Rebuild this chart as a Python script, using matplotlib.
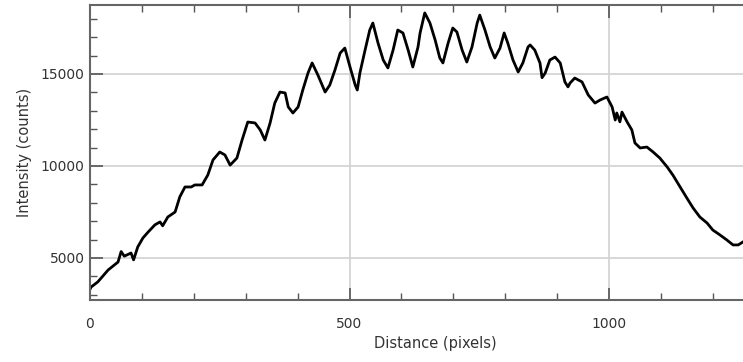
import matplotlib
matplotlib.use("Agg")
import matplotlib.pyplot as plt
from matplotlib.ticker import MultipleLocator

# Profile (distance in pixels, intensity in counts)
distance = [0, 2, 15, 35, 54, 60, 66, 79, 84, 92, 102, 112, 125, 135, 140, 150, 164,
            173, 183, 195, 202, 214, 216, 227, 237, 250, 260, 270, 283, 293, 304, 318,
            328, 337, 347, 356, 366, 376, 382, 391, 401, 410, 420, 428, 439, 453, 462,
            472, 482, 491, 501, 511, 515, 520, 530, 539, 545, 555, 565, 574, 584, 593,
            603, 613, 622, 632, 636, 645, 655, 665, 674, 680, 690, 699, 707, 717, 726,
            736, 746, 751, 761, 771, 780, 790, 798, 805, 815, 825, 834, 844, 848, 857,
            867, 871, 877, 886, 896, 906, 915, 921, 925, 934, 948, 960, 973, 983, 996,
            1006, 1012, 1015, 1021, 1025, 1035, 1044, 1050, 1060, 1073, 1085, 1098,
            1112, 1123, 1137, 1150, 1162, 1175, 1189, 1200, 1214, 1227, 1239, 1249, 1258]
intensity = [3300, 3420, 3700, 4350, 4780, 5350, 5100, 5270, 4900, 5600, 6090, 6410,
             6800, 6960, 6750, 7230, 7500, 8320, 8860, 8860, 8970, 8970, 8970, 9510,
             10330, 10760, 10600, 10050, 10430, 11410, 12390, 12340, 11960, 11410,
             12340, 13420, 14020, 13970, 13210, 12880, 13210, 14130, 15050, 15600,
             14950, 14020, 14400, 15220, 16140, 16410, 15380, 14400, 14130, 15050,
             16300, 17390, 17770, 16680, 15760, 15330, 16300, 17390, 17230, 16300,
             15380, 16470, 17230, 18320, 17770, 16850, 15870, 15600, 16680, 17500,
             17280, 16300, 15650, 16470, 17770, 18200, 17390, 16470, 15870, 16410,
             17230, 16680, 15760, 15110, 15600, 16470, 16580, 16300, 15600, 14800,
             15050, 15760, 15920, 15600, 14570, 14300, 14510, 14780, 14570, 13860,
             13420, 13590, 13750, 13210, 12500, 12880, 12400, 12930, 12390, 11960,
             11250, 10980, 11030, 10760, 10430, 9950, 9510, 8860, 8260, 7720, 7230,
             6900, 6520, 6250, 5980, 5710, 5710, 5870]

fig = plt.figure(figsize=(7.43, 3.62), dpi=100)
# right frame edge sits past the picture, as in the original screenshot
ax = fig.add_axes([90 / 743, 62 / 362, 690 / 743, 295 / 362])

ax.plot(distance, intensity, color="black", linewidth=2.0)

ax.set_xlim(0, 690 / 0.519)
ax.set_ylim(2717, 18750)

ax.xaxis.set_major_locator(MultipleLocator(500))
ax.xaxis.set_minor_locator(MultipleLocator(100))
ax.yaxis.set_major_locator(MultipleLocator(5000))
ax.yaxis.set_minor_locator(MultipleLocator(1000))

ax.grid(True, which="major", color="#d4d4d4", linewidth=1.3)
ax.set_axisbelow(True)

ax.tick_params(which="both", direction="in", top=True, right=True,
               colors="#555555", labelcolor="#333333", labelsize=10)
ax.tick_params(which="major", length=9, width=1.2)
ax.tick_params(which="minor", length=5, width=1.0)
ax.tick_params(axis="x", which="major", pad=12)
ax.tick_params(axis="y", which="major", pad=4)

for spine in ax.spines.values():
    spine.set_color("#666666")
    spine.set_linewidth(1.5)

ax.set_xlabel("Distance (pixels)", fontsize=10.5, color="#333333", labelpad=4)
ax.set_ylabel("Intensity (counts)", fontsize=10.5, color="#333333", labelpad=6)

fig.savefig("out.png", dpi=100)
